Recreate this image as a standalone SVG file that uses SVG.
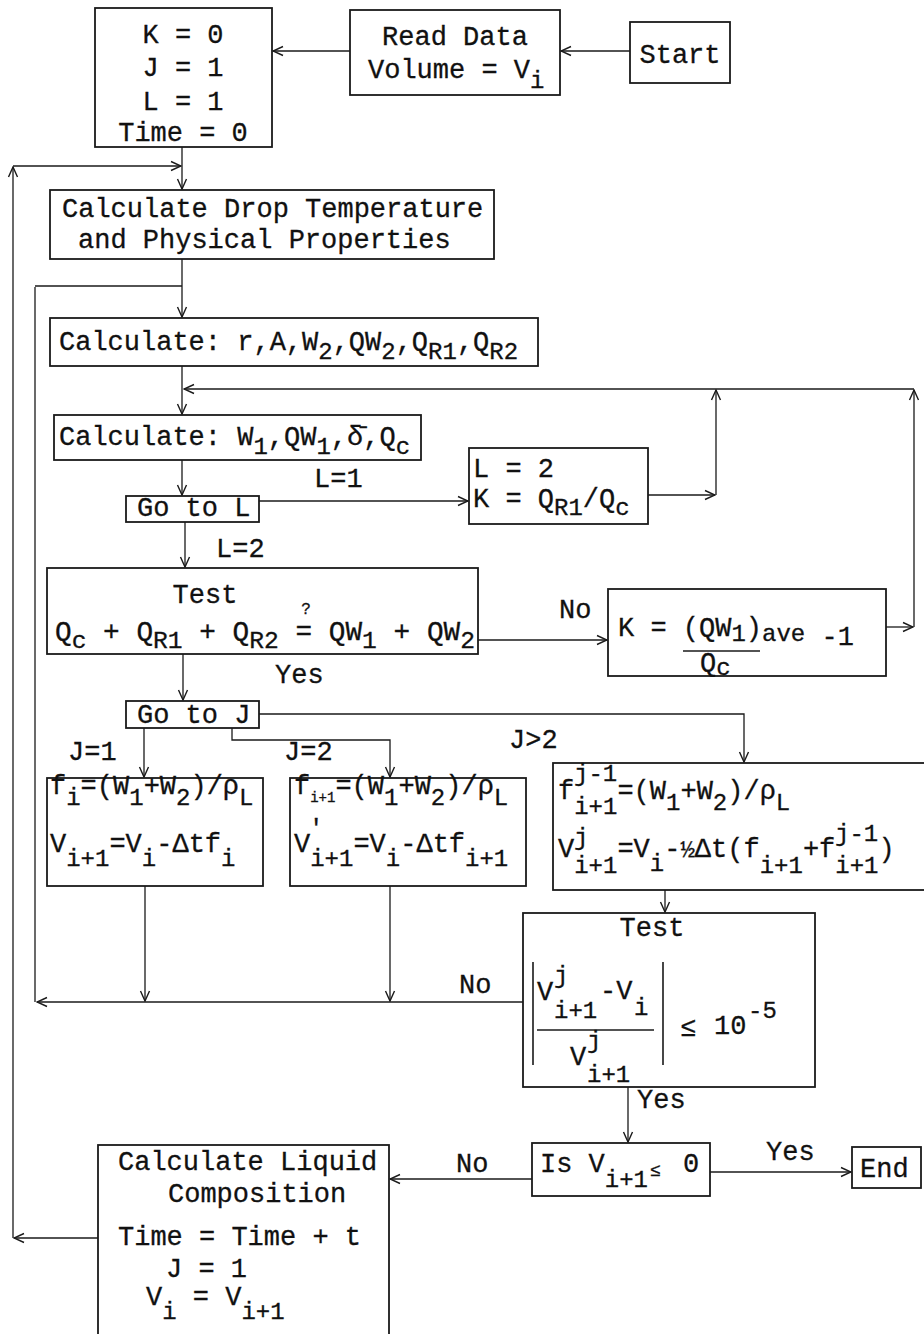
<svg xmlns="http://www.w3.org/2000/svg" width="924" height="1334" viewBox="0 0 924 1334">
<style>
.box{fill:none;stroke:#1a1a1a;stroke-width:1.8}
.ln{fill:none;stroke:#1a1a1a;stroke-width:1.3}
.bar{fill:none;stroke:#1a1a1a;stroke-width:1.6}
text{font-family:"Liberation Mono","DejaVu Sans Mono",monospace;font-size:27px;fill:#111;stroke:#111;stroke-width:0.3}
.s{font-size:24px}
.t{font-size:14px}
.q{font-size:18px}
</style>
<defs>
<marker id="a" viewBox="0 0 12 12" refX="11" refY="6" markerWidth="12" markerHeight="12" orient="auto" markerUnits="userSpaceOnUse">
<path d="M1,1.5 L11,6 L1,10.5" fill="none" stroke="#1a1a1a" stroke-width="1.4"/>
</marker>
</defs>
<rect width="924" height="1334" fill="#fff"/>

<g id="connectors" class="ln">
<path d="M630,51 H561" marker-end="url(#a)"/>
<path d="M350,51 H273" marker-end="url(#a)"/>
<path d="M182,147 V189" marker-end="url(#a)"/>
<path d="M98,1238 H14" marker-end="url(#a)"/>
<path d="M13,1238 V167" marker-end="url(#a)"/>
<path d="M13,166 H181" marker-end="url(#a)"/>
<path d="M182,259 V317" marker-end="url(#a)"/>
<path d="M523,1002 H37" marker-end="url(#a)"/>
<path d="M35,1002 V287"/>
<path d="M35,286 H182"/>
<path d="M182,366 V414" marker-end="url(#a)"/>
<path d="M886,627 H913" marker-end="url(#a)"/>
<path d="M914,627 V390" marker-end="url(#a)"/>
<path d="M914,389 H184" marker-end="url(#a)"/>
<path d="M648,495 H715" marker-end="url(#a)"/>
<path d="M716,495 V390" marker-end="url(#a)"/>
<path d="M182,460 V495" marker-end="url(#a)"/>
<path d="M259,501 H468" marker-end="url(#a)"/>
<path d="M185,522 V567" marker-end="url(#a)"/>
<path d="M478,640 H607" marker-end="url(#a)"/>
<path d="M183,654 V700" marker-end="url(#a)"/>
<path d="M259,714 H744 V762" marker-end="url(#a)"/>
<path d="M144,728 V777" marker-end="url(#a)"/>
<path d="M232,728 V740 H390 V777" marker-end="url(#a)"/>
<path d="M145,886 V1001" marker-end="url(#a)"/>
<path d="M390,886 V1001" marker-end="url(#a)"/>
<path d="M665,890 V912" marker-end="url(#a)"/>
<path d="M628,1087 V1142" marker-end="url(#a)"/>
<path d="M710,1172 H851" marker-end="url(#a)"/>
<path d="M532,1179 H390" marker-end="url(#a)"/>
</g>

<g id="labels">
<text x="314" y="487">L=1</text>
<text x="216" y="557">L=2</text>
<text x="559" y="618">No</text>
<text x="275" y="683">Yes</text>
<text x="68" y="760">J=1</text>
<text x="284" y="760">J=2</text>
<text x="509" y="748">J&gt;2</text>
<text x="459" y="993">No</text>
<text x="637" y="1108">Yes</text>
<text x="456" y="1172">No</text>
<text x="766" y="1160">Yes</text>
</g>

<g id="init">
<rect class="box" x="95" y="8" width="177" height="139"/>
<text x="183" y="43" text-anchor="middle">K = 0</text>
<text x="183" y="76" text-anchor="middle">J = 1</text>
<text x="183" y="110" text-anchor="middle">L = 1</text>
<text x="183" y="141" text-anchor="middle">Time = 0</text>
</g>

<g id="read">
<rect class="box" x="350" y="10" width="210" height="85"/>
<text x="455" y="45" text-anchor="middle">Read Data</text>
<text x="368" y="78">Volume = V<tspan class="s" dy="10">i</tspan></text>
</g>

<g id="start">
<rect class="box" x="630" y="22" width="100" height="61"/>
<text x="680" y="63" text-anchor="middle">Start</text>
</g>

<g id="calc-drop">
<rect class="box" x="50" y="190" width="444" height="69"/>
<text x="62" y="217">Calculate Drop Temperature</text>
<text x="78" y="248">and Physical Properties</text>
</g>

<g id="calc-r">
<rect class="box" x="50" y="318" width="488" height="48"/>
<text x="59" y="350">Calculate: r,A,W<tspan class="s" dy="9">2</tspan><tspan dy="-9">,QW</tspan><tspan class="s" dy="9">2</tspan><tspan dy="-9">,Q</tspan><tspan class="s" dy="9">R1</tspan><tspan dy="-9">,Q</tspan><tspan class="s" dy="9">R2</tspan></text>
</g>

<g id="calc-w1">
<rect class="box" x="54" y="415" width="367" height="45"/>
<text x="59" y="445">Calculate: W<tspan class="s" dy="9">1</tspan><tspan dy="-9">,QW</tspan><tspan class="s" dy="9">1</tspan><tspan dy="-9">,δ̄,Q</tspan><tspan class="s" dy="9">c</tspan></text>
</g>

<g id="set-l2">
<rect class="box" x="469" y="448" width="179" height="76"/>
<text x="473" y="477">L = 2</text>
<text x="473" y="507">K = Q<tspan class="s" dy="8">R1</tspan><tspan dy="-8">/Q</tspan><tspan class="s" dy="8">c</tspan></text>
</g>

<g id="goto-l">
<rect class="box" x="126" y="496" width="133" height="26"/>
<text x="137" y="516">Go to L</text>
</g>

<g id="test1">
<rect class="box" x="47" y="568" width="431" height="86"/>
<text x="205" y="603" text-anchor="middle">Test</text>
<text x="55" y="640" textLength="420" lengthAdjust="spacingAndGlyphs">Q<tspan class="s" dy="8">c</tspan><tspan dy="-8"> + Q</tspan><tspan class="s" dy="8">R1</tspan><tspan dy="-8"> + Q</tspan><tspan class="s" dy="8">R2</tspan><tspan dy="-8"> = QW</tspan><tspan class="s" dy="8">1</tspan><tspan dy="-8"> + QW</tspan><tspan class="s" dy="8">2</tspan></text>
<text x="306" y="614" text-anchor="middle" style="font-size:16px">?</text>
</g>

<g id="k-ave">
<rect class="box" x="608" y="589" width="278" height="87"/>
<text x="618" y="636">K = (QW<tspan class="s" dy="5">1</tspan><tspan dy="-5">)</tspan><tspan class="s" dy="5">ave</tspan><tspan dy="4"> -1</tspan></text>
<path class="bar" d="M683,651 H760"/>
<text x="700" y="671">Q<tspan class="s" dy="4">c</tspan></text>
</g>

<g id="goto-j">
<rect class="box" x="126" y="701" width="133" height="27"/>
<text x="137" y="723">Go to J</text>
</g>

<g id="j1">
<rect class="box" x="47" y="778" width="216" height="108"/>
<text x="50" y="794">f<tspan class="s" dy="11">i</tspan><tspan dy="-11">=(W</tspan><tspan class="s" dy="11">1</tspan><tspan dy="-11">+W</tspan><tspan class="s" dy="11">2</tspan><tspan dy="-11">)/ρ</tspan><tspan class="s" dy="11">L</tspan></text>
<text x="50" y="852">V<tspan class="s" dy="14">i+1</tspan><tspan dy="-14">=V</tspan><tspan class="s" dy="14">i</tspan><tspan dy="-14">-Δtf</tspan><tspan class="s" dy="14">i</tspan></text>
</g>

<g id="j2">
<rect class="box" x="290" y="778" width="236" height="108"/>
<text x="294" y="794">f<tspan class="t" dy="8">i+1</tspan><tspan dy="-8">=(W</tspan><tspan class="s" dy="11">1</tspan><tspan dy="-11">+W</tspan><tspan class="s" dy="11">2</tspan><tspan dy="-11">)/ρ</tspan><tspan class="s" dy="11">L</tspan></text>
<text x="294" y="852">V<tspan class="s" dy="14">i+1</tspan><tspan dy="-14">=V</tspan><tspan class="s" dy="14">i</tspan><tspan dy="-14">-Δtf</tspan><tspan class="s" dy="14">i+1</tspan></text>
<text class="s" x="309" y="836">'</text>
</g>

<g id="j3">
<rect class="box" x="553" y="763" width="400" height="127"/>
<text x="558" y="799">f<tspan class="s" dy="15">i+1</tspan><tspan dy="-15">=(W</tspan><tspan class="s" dy="11">1</tspan><tspan dy="-11">+W</tspan><tspan class="s" dy="11">2</tspan><tspan dy="-11">)/ρ</tspan><tspan class="s" dy="11">L</tspan></text>
<text class="s" x="574" y="781">j-1</text>
<text x="558" y="857">V<tspan class="s" dy="16">i+1</tspan><tspan dy="-16">=V</tspan><tspan class="s" dy="14">i</tspan><tspan dy="-14">-</tspan><tspan class="s">½</tspan><tspan>Δt(f</tspan><tspan class="s" dy="16">i+1</tspan><tspan dy="-16">+f</tspan><tspan class="s" dy="16">i+1</tspan><tspan dy="-16">)</tspan></text>
<text class="s" x="574" y="845">j</text>
<text class="s" x="835" y="841">j-1</text>
</g>

<g id="test2">
<rect class="box" x="523" y="913" width="292" height="174"/>
<text x="652" y="936" text-anchor="middle">Test</text>
<path class="bar" d="M533,962 V1065 M663,962 V1065"/>
<text x="537" y="1000">V</text>
<text class="s" x="554" y="983">j</text>
<text class="s" x="554" y="1018">i+1</text>
<text x="600" y="999">-V</text>
<text class="s" x="634" y="1015">i</text>
<path class="bar" d="M537,1030 H654" stroke-width="2.2"/>
<text x="570" y="1065">V</text>
<text class="s" x="587" y="1048">j</text>
<text class="s" x="587" y="1082">i+1</text>
<text x="680" y="1036">≤</text>
<text x="714" y="1034">10</text>
<text class="s" x="748" y="1018">-5</text>
</g>

<g id="is-v">
<rect class="box" x="532" y="1143" width="178" height="53"/>
<text x="540" y="1172">Is V<tspan class="s" dy="15">i+1</tspan></text>
<text class="q" x="650" y="1176">≤</text>
<text x="683" y="1172">0</text>
</g>

<g id="end">
<rect class="box" x="852" y="1147" width="69" height="41"/>
<text x="860" y="1177">End</text>
</g>

<g id="calc-liquid">
<rect class="box" x="98" y="1145" width="291" height="200"/>
<text x="118" y="1170">Calculate Liquid</text>
<text x="168" y="1202">Composition</text>
<text x="118" y="1245">Time = Time + t</text>
<text x="166" y="1277">J = 1</text>
<text x="146" y="1305">V<tspan class="s" dy="14">i</tspan><tspan dy="-14"> = V</tspan><tspan class="s" dy="14">i+1</tspan></text>
</g>
</svg>
